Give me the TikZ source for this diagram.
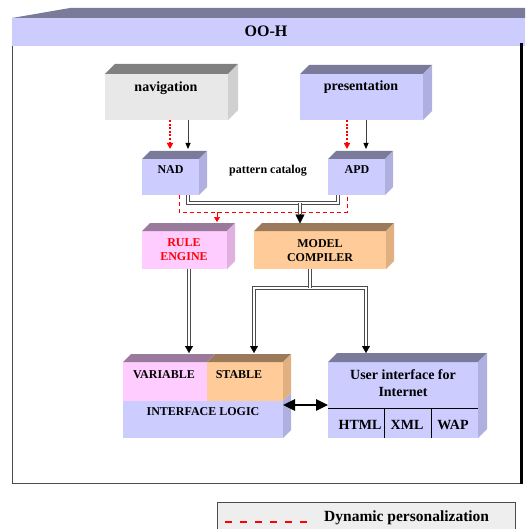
\documentclass[tikz,border=0pt]{standalone}
\usepackage{fontspec}
\setmainfont{Liberation Serif}
\usetikzlibrary{arrows.meta}
\definecolor{lav}{HTML}{CCCCFF}
\definecolor{lavtop}{HTML}{7A7A9A}
\definecolor{lavside}{HTML}{B0B0E0}
\definecolor{gry}{HTML}{E8E8E8}
\definecolor{grytop}{HTML}{808080}
\definecolor{gryside}{HTML}{D0D0D0}
\definecolor{pnk}{HTML}{FFCCFF}
\definecolor{pnktop}{HTML}{9A7A9A}
\definecolor{pnkside}{HTML}{E0B0E0}
\definecolor{org}{HTML}{FFCC99}
\definecolor{orgtop}{HTML}{9A7A5A}
\definecolor{orgside}{HTML}{E0B080}
\definecolor{legbg}{HTML}{EEEEEE}
\newcommand\cubefaces[4]{%
  \fill[#3] (#1.north west) -- ++(#2,-#2) -- ([shift={(#2,-#2)}]#1.north east) -- (#1.north east) -- cycle;
  \fill[#4] (#1.north east) -- ++(#2,-#2) -- ([shift={(#2,-#2)}]#1.south east) -- (#1.south east) -- cycle;}
\tikzset{
  face/.style={inner sep=0pt, outer sep=0pt, draw=none},
  lbl/.style={inner sep=0pt, font=\bfseries\fontsize{#1}{#1}\selectfont},
  lbl/.default=12,
  dbl/.style={draw=black!70, double=white, double distance=1.4pt, line width=1pt},
  blktip/.style={draw=black, line width=0.3pt, -{Triangle[length=7pt,width=8pt,black]}},
  thinarrow/.style={draw=black!75, line width=0.8pt, -{Triangle[length=6pt,width=5pt,color=black]}},
  reddot/.style={draw=red, line width=1.8pt, dash pattern=on 2pt off 1.6pt, -{Triangle[length=6pt,width=6pt,color=red]}},
  reddash/.style={draw=red, line width=1pt, dash pattern=on 4pt off 3pt},
}
\begin{document}
\begin{tikzpicture}[x=1pt,y=-1pt]
\useasboundingbox (0,0) rectangle (525,529);
\clip (0,0) rectangle (525,529);
% title bar
\fill[lavtop] (12,18) -- (70,8) -- (525,8) -- (525,18) -- cycle;
\node[face, fill=lav, minimum width=513pt, minimum height=28pt, anchor=north west] (title) at (12,18) {};
\node[lbl=16] (titletext) at (266,31) {OO-H};
% frame
\draw[black!70, line width=1pt] (12,46) -- (12,483) -- (521,483);
\draw[black, line width=3pt] (521.5,43) -- (521.5,484);
% navigation
\node[face, fill=gry, minimum width=123pt, minimum height=46pt] (nav) at (166.5,97) {};
\cubefaces{nav}{10}{grytop}{gryside}
\node[lbl=14] (navtext) at (166,88) {navigation};
% presentation
\node[face, fill=lav, minimum width=123pt, minimum height=46pt] (pres) at (361.5,97) {};
\cubefaces{pres}{9}{lavtop}{lavside}
\node[lbl=14] (prestext) at (361,87) {presentation};
% NAD / APD
\node[face, fill=lav, minimum width=57pt, minimum height=36pt] (NAD) at (170.5,177) {};
\cubefaces{NAD}{8}{lavtop}{lavside}
\node[lbl] (nadtext) at (170.5,170) {NAD};
\node[face, fill=lav, minimum width=57pt, minimum height=36pt] (APD) at (356.5,177) {};
\cubefaces{APD}{8}{lavtop}{lavside}
\node[lbl] (apdtext) at (357,170) {APD};
\node[lbl] (pattern) at (268,171) {pattern catalog};
% rule engine / model compiler
\node[face, fill=pnk, minimum width=85pt, minimum height=38pt] (RE) at (184.5,250) {};
\cubefaces{RE}{8}{pnktop}{pnkside}
\node[lbl, text=red, align=center] (retext) at (184,250) {RULE\\[2pt]ENGINE};
\node[face, fill=org, minimum width=132pt, minimum height=38pt] (MC) at (320,250) {};
\cubefaces{MC}{8}{orgtop}{orgside}
\node[lbl, align=center] (mctext) at (320,250.5) {MODEL\\[2pt]COMPILER};
% left block
\node[face, fill=lav, minimum width=160pt, minimum height=76pt] (ilogic) at (203,400) {};
\node[face, fill=pnk, minimum width=84pt, minimum height=39pt] (var) at (165,381.5) {};
\cubefaces{var}{8}{pnktop}{pnkside}
\node[face, fill=org, minimum width=76pt, minimum height=39pt] (stable) at (245,381.5) {};
\cubefaces{stable}{8}{orgtop}{orgside}
\fill[lavside] (283,401) -- (291,393) -- (291,430) -- (283,438) -- cycle;
\node[lbl] (vartext) at (164,374.5) {VARIABLE};
\node[lbl] (stabletext) at (239,374.5) {STABLE};
\node[lbl] (iltext) at (203,412) {INTERFACE LOGIC};
% user interface
\node[face, fill=lav, minimum width=150pt, minimum height=76pt] (UI) at (403,400) {};
\cubefaces{UI}{9}{lavtop}{lavside}
\node[lbl=14] (uitext1) at (403,375) {User interface for};
\node[lbl=14] (uitext2) at (403,392) {Internet};
\draw[black, line width=0.6pt, double=lav, double distance=1pt] (UI.west |- 0,409) -- (UI.east |- 0,409);
\draw[black, line width=0.8pt] (384,409) -- (384,438);
\draw[black, line width=0.8pt] (431,409) -- (431,438);
\node[lbl=14] (html) at (360,425) {HTML};
\node[lbl=14] (xml) at (407,425) {XML};
\node[lbl=14] (wap) at (453,425) {WAP};
% coordinates for connectors
\coordinate (navR) at (170,120);
\coordinate (navB) at (188,120);
\coordinate (nadR) at (170,149);
\coordinate (nadB) at (188,149);
\coordinate (presR) at (347,120);
\coordinate (presB) at (366,120);
\coordinate (apdR) at (347,149);
\coordinate (apdB) at (366,149);
\coordinate (nadOut) at (188,195);
\coordinate (apdOut) at (338,195);
\coordinate (bus) at (300,203);
\coordinate (mcIn) at (300,223);
\coordinate (mcInS) at (300,214);
\coordinate (nadRed) at (179,195);
\coordinate (apdRed) at (347,195);
\coordinate (redL) at (179,212);
\coordinate (redR) at (347,212);
\coordinate (redJ) at (217,212);
\coordinate (reIn) at (217,222);
\coordinate (reOut) at (189,269);
\coordinate (varIn) at (189,353);
\coordinate (varInS) at (189,346);
\coordinate (mcOut) at (310,269);
\coordinate (mcBus) at (310,288);
\coordinate (stIn) at (254,353);
\coordinate (stInS) at (254,346);
\coordinate (uiIn) at (366,353);
\coordinate (uiInS) at (366,346);
% navigation -> NAD, presentation -> APD
\draw[reddot] (navR) -- (nadR);
\draw[thinarrow] (navB) -- (nadB);
\draw[reddot] (presR) -- (apdR);
\draw[thinarrow] (presB) -- (apdB);
% pattern bus to model compiler
\draw[dbl] (nadOut) |- (bus) -| (apdOut);
\draw[dbl] (bus) -- (mcInS);
\draw[blktip, -{Triangle[length=9pt,width=9pt,black]}] (mcInS) -- ([yshift=-0.5pt]mcIn);
% dynamic personalization (red dashed)
\draw[reddash] (nadRed) -- (redL) -- (redR) -- (apdRed);
\draw[red, line width=0.6pt, -{Triangle[length=5pt,width=6pt]}] (redJ) -- (reIn);
% rule engine -> variable
\draw[dbl] (reOut) -- (varInS);
\draw[blktip] (varInS) -- (varIn);
% model compiler -> stable, user interface
\draw[dbl] (stInS) |- (mcBus -| uiInS) -- (uiInS);
\draw[dbl] (mcOut) -- (mcBus);
\draw[blktip] (stInS) -- (stIn);
\draw[blktip] (uiInS) -- (uiIn);
% interface logic <-> user interface
\draw[line width=2.6pt, {Triangle[length=12pt,width=11pt]}-{Triangle[length=12pt,width=11pt]}] ([yshift=-5pt]ilogic.east) -- ([yshift=-5pt]UI.west);
% legend
\node[face, draw=black!70, line width=1pt, fill=legbg, minimum width=298pt, minimum height=40pt, anchor=north west] (legend) at (217,502) {};
\draw[red, line width=2pt, dash pattern=on 7pt off 8pt] (225,522) -- (312,522);
\node[lbl=15.5, anchor=west] (legtext) at (324,518) {Dynamic personalization};
\end{tikzpicture}
\end{document}
